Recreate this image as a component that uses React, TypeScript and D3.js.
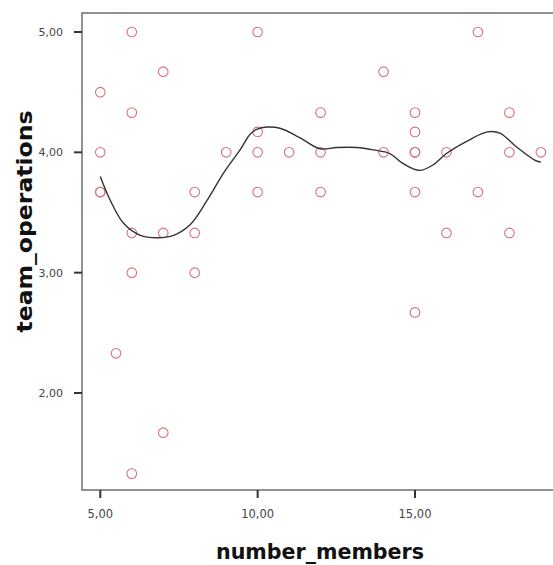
import React from "react"
import * as d3 from "d3"

// scatter points (number_members, team_operations)
const membersX = [
  5, 5, 5, 5, 5.5,
  6, 6, 6, 6, 6,
  7, 7, 7,
  8, 8, 8,
  9,
  10, 10, 10, 10,
  11,
  12, 12, 12,
  14, 14,
  15, 15, 15, 15, 15, 15,
  16, 16,
  17, 17,
  18, 18, 18,
  19,
]
const operationsY = [
  4.5, 4.0, 3.67, 3.67, 2.33,
  5.0, 4.33, 3.33, 3.0, 1.33,
  4.67, 3.33, 1.67,
  3.67, 3.33, 3.0,
  4.0,
  5.0, 4.17, 4.0, 3.67,
  4.0,
  4.33, 4.0, 3.67,
  4.67, 4.0,
  4.33, 4.17, 4.0, 3.67, 2.67, 4.0,
  4.0, 3.33,
  5.0, 3.67,
  4.33, 4.0, 3.33,
  4.0,
]

// loess fit line
const fitX = [
  5.0, 5.32, 5.74, 6.27, 6.8, 7.33, 7.86, 8.39, 8.92, 9.44, 9.76, 9.97,
  10.29, 10.71, 11.35, 11.98, 12.51, 13.15, 13.68, 14.2, 14.6, 15.15,
  15.6, 16.0, 16.7, 17.3, 17.7, 18.2, 18.84, 19.0,
]
const fitY = [
  3.8, 3.6, 3.41, 3.31, 3.29, 3.31, 3.4, 3.6, 3.83, 4.02, 4.15, 4.19,
  4.21, 4.2, 4.12, 4.03, 4.04, 4.04, 4.02, 3.99, 3.91, 3.85,
  3.9, 3.99, 4.1, 4.17, 4.16, 4.05, 3.93, 3.92,
]

const xTicks = [5, 10, 15]
const yTicks = [2, 3, 4, 5]
const fmt = (v: number) => v.toFixed(2).replace(".", ",")

export default function App() {
  const W = 553
  const H = 565

  const x = d3.scaleLinear().domain([5, 15]).range([100.3, 415])
  const y = d3.scaleLinear().domain([2, 5]).range([393, 32])

  const left = 82, right = 554, top = 13, bottom = 490

  const line = d3.line<number>()
    .x((d, i) => x(fitX[i]))
    .y((d) => y(d))
    .curve(d3.curveCatmullRom)

  return (
    <svg width={W} height={H} style={{ position: "absolute", left: 0, top: 0, background: "#fff" }}
      fontFamily="DejaVu Sans, sans-serif">
      <rect x={0} y={0} width={W} height={H} fill="#fff" />
      {/* frame */}
      <rect x={left} y={top} width={right - left} height={bottom - top}
        fill="none" stroke="#777" strokeWidth={1.6} />

      {/* y axis */}
      {yTicks.map((t) => (
        <g key={t}>
          <line x1={left - 8} x2={left} y1={y(t)} y2={y(t)} stroke="#333" strokeWidth={2} />
          <text x={left - 19} y={y(t)} dy="0.35em" textAnchor="end" fontSize={11} fill="#444">
            {fmt(t)}
          </text>
        </g>
      ))}

      {/* x axis */}
      {xTicks.map((t) => (
        <g key={t}>
          <line x1={x(t)} x2={x(t)} y1={bottom} y2={bottom + 8} stroke="#333" strokeWidth={2} />
          <text x={x(t)} y={bottom + 28} textAnchor="middle" fontSize={11.5} fill="#444">
            {fmt(t)}
          </text>
        </g>
      ))}

      {/* points */}
      {membersX.map((mx, i) => (
        <circle key={i} cx={x(mx)} cy={y(operationsY[i])} r={4.8}
          fill="none" stroke="#d8707c" strokeWidth={1.1} />
      ))}

      {/* fit line */}
      <path d={line(fitY) || ""} fill="none" stroke="#333" strokeWidth={1.4} />

      {/* titles */}
      <text x={320} y={559} textAnchor="middle" fontSize={20.5} fontWeight="bold" fill="#111"
        textLength={208} lengthAdjust="spacingAndGlyphs">
        number_members
      </text>
      <text transform={`translate(32,${(110 + 333) / 2}) rotate(-90)`} textAnchor="middle"
        fontSize={21} fontWeight="bold" fill="#111" textLength={222} lengthAdjust="spacingAndGlyphs">
        team_operations
      </text>
    </svg>
  )
}
